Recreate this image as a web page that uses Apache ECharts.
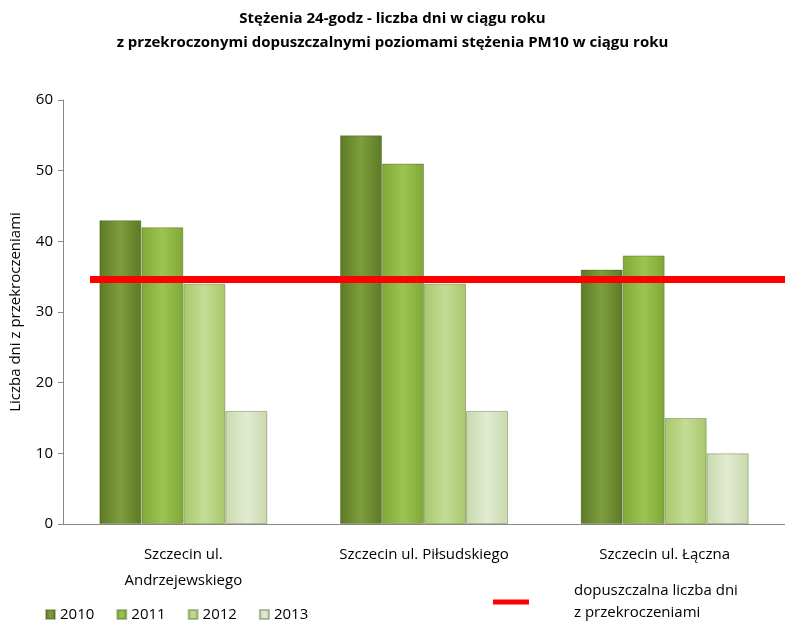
<!DOCTYPE html>
<html><head><meta charset="utf-8">
<script src="https://cdn.jsdelivr.net/npm/echarts@6/dist/echarts.min.js"></script>
<style>html,body{margin:0;padding:0;background:#fff}#chart{width:785px;height:629px}</style>
</head><body><div id="chart"></div>
<script>
var categories = ['Szczecin ul.\nAndrzejewskiego', 'Szczecin ul. Piłsudskiego', 'Szczecin ul. Łączna'];
var years = ['2010', '2011', '2012', '2013'];
var v2010 = [43, 55, 36];
var v2011 = [42, 51, 38];
var v2012 = [34, 34, 15];
var v2013 = [16, 16, 10];
var limit = 34.6;
var limitName = 'dopuszczalna liczba dni\nz przekroczeniami';

var colors = [['#5c7a26', '#7d9e3c'], ['#7fa836', '#9dc452'], ['#a8c86c', '#c4dc94'], ['#c9d9ac', '#e2ebd2']];
function grad(c) {
    return new echarts.graphic.LinearGradient(0, 0, 1, 0, [{offset: 0, color: c[0]}, {offset: 0.5, color: c[1]}, {offset: 1, color: c[0]}]);
}
var font = '"Open Sans", "DejaVu Sans", sans-serif';
var myChart = echarts.init(document.getElementById('chart'));
var vals = [v2010, v2011, v2012, v2013];
var series = years.map(function (y, i) {
    return {
        name: y, type: 'bar', data: vals[i], barWidth: 42, barGap: '0%',
        itemStyle: {color: grad(colors[i]), borderColor: 'rgba(60,80,20,0.35)', borderWidth: 1}
    };
});
series.push({
    name: limitName, type: 'line', data: [], z: 10,
    itemStyle: {color: '#ff0000'}, lineStyle: {color: '#ff0000', width: 5},
    markLine: {symbol: 'none', silent: true, label: {show: false},
        lineStyle: {color: '#ff0000', width: 7, type: 'solid'},
        data: [[{x: 90, yAxis: limit}, {x: 785, yAxis: limit}]]}
});
var option = {
    animation: false,
    title: {
        text: 'Stężenia 24-godz - liczba dni w ciągu roku\nz przekroczonymi dopuszczalnymi poziomami stężenia PM10 w ciągu roku',
        left: 'center', top: 2,
        textStyle: {fontFamily: font, fontSize: 15, fontWeight: 'bold', lineHeight: 24, color: '#000'}
    },
    legend: [{
        data: years, left: 40, bottom: 2, itemWidth: 9, itemHeight: 9, itemGap: 22, icon: 'rect',
        textStyle: {fontFamily: font, fontSize: 15, color: '#000'}
    }, {
        data: [{name: limitName, icon: 'rect'}], left: 488, bottom: 0, itemWidth: 36, itemHeight: 5, itemGap: 10,
        textStyle: {fontFamily: font, fontSize: 15, color: '#000', lineHeight: 22, padding: [0, 0, 0, 40]}
    }],
    grid: {left: 62, right: 0, top: 100, bottom: 105},
    xAxis: {
        type: 'category', data: categories,
        axisLine: {lineStyle: {color: '#888'}}, axisTick: {show: false},
        axisLabel: {fontFamily: font, fontSize: 15, color: '#000', margin: 18, lineHeight: 26}
    },
    yAxis: {
        type: 'value', min: 0, max: 60, interval: 10,
        name: 'Liczba dni z przekroczeniami', nameLocation: 'middle', nameGap: 40,
        nameTextStyle: {fontFamily: font, fontSize: 15, color: '#000'},
        axisLine: {show: true, lineStyle: {color: '#888'}}, axisTick: {show: true, length: 5},
        splitLine: {show: false},
        axisLabel: {fontFamily: font, fontSize: 15, color: '#000', margin: 10}
    },
    series: series
};
myChart.setOption(option);
</script></body></html>
